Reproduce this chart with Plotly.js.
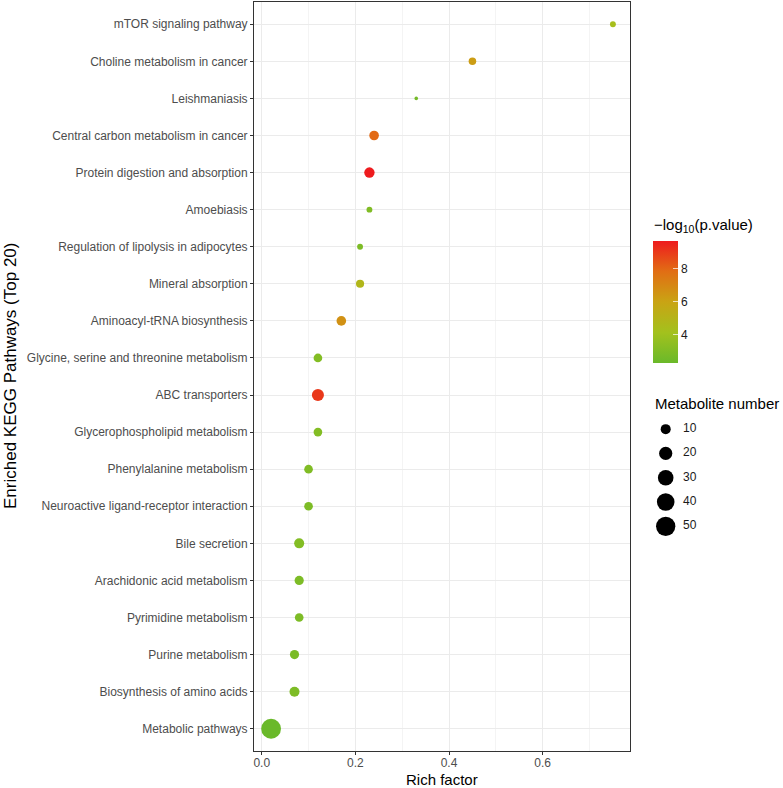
<!DOCTYPE html>
<html>
<head>
<meta charset="utf-8">
<script src="https://cdn.plot.ly/plotly-3.0.1.min.js"></script>
<style>html,body{margin:0;padding:0;background:#fff;}#chart{width:783px;height:788px;}</style>
</head>
<body>
<div id="chart"></div>
<script>
// ---- data ----
var pathways = [
  "mTOR signaling pathway",
  "Choline metabolism in cancer",
  "Leishmaniasis",
  "Central carbon metabolism in cancer",
  "Protein digestion and absorption",
  "Amoebiasis",
  "Regulation of lipolysis in adipocytes",
  "Mineral absorption",
  "Aminoacyl-tRNA biosynthesis",
  "Glycine, serine and threonine metabolism",
  "ABC transporters",
  "Glycerophospholipid metabolism",
  "Phenylalanine metabolism",
  "Neuroactive ligand-receptor interaction",
  "Bile secretion",
  "Arachidonic acid metabolism",
  "Pyrimidine metabolism",
  "Purine metabolism",
  "Biosynthesis of amino acids",
  "Metabolic pathways"
];
var richFactor = [0.75, 0.45, 0.33, 0.24, 0.23, 0.23, 0.21, 0.21, 0.17, 0.12, 0.12, 0.12, 0.10, 0.10, 0.08, 0.08, 0.08, 0.07, 0.07, 0.02];
var metaboliteNumber = [3, 5, 2, 9, 11, 3, 3, 6, 9, 7, 16, 7, 7, 7, 10, 8, 7, 8, 10, 53];
var negLog10P = [4.3, 6.2, 2.6, 7.9, 9.65, 3.0, 2.9, 4.8, 6.6, 3.1, 9.0, 3.1, 3.0, 2.9, 3.1, 2.9, 2.9, 2.8, 2.9, 2.28];
var sizeLegendValues = [10, 20, 30, 40, 50];
var xTickValues = [0, 0.2, 0.4, 0.6];
var colorTickValues = [4, 6, 8];

// ---- scales ----
var nMin = Math.min.apply(null, metaboliteNumber), nMax = Math.max.apply(null, metaboliteNumber);
function diam(v){ return 3.6 + 16.2 * Math.sqrt(Math.max(0,(v - nMin)) / (nMax - nMin)); }
var cMin = Math.min.apply(null, negLog10P), cMax = Math.max.apply(null, negLog10P);
var colorscale = [[0,'#6ab92a'],[0.25,'#a3c11d'],[0.5,'#c9a414'],[0.75,'#e16e14'],[1,'#ee1b1e']];
var xr = Math.max.apply(null, richFactor) - Math.min.apply(null, richFactor);
var xRange = [Math.min.apply(null, richFactor) - 0.05*xr, Math.max.apply(null, richFactor) + 0.05*xr];

var W = 783, H = 788, L = 254, R = 5, T = 2, B = 37;
var pw = W - L - R, ph = H - T - B;
function px2x(p){ return (p - L) / pw; }
function px2y(p){ return (H - B - p) / ph; }

var font = "Liberation Sans, Arial, Helvetica, sans-serif";

var main = {
  type: 'scatter', mode: 'markers',
  x: richFactor, y: pathways,
  xaxis: 'x', yaxis: 'y',
  marker: {
    size: metaboliteNumber.map(diam), sizemode: 'diameter',
    color: negLog10P, colorscale: colorscale, cmin: cMin, cmax: cMax,
    opacity: 1, line: {width: 0},
    showscale: true,
    colorbar: {
      xref: 'paper', yref: 'paper',
      x: px2x(653), xanchor: 'left', y: px2y(363.3), yanchor: 'bottom',
      len: 121.6, lenmode: 'pixels', thickness: 25, thicknessmode: 'pixels',
      xpad: 0, ypad: 0, outlinewidth: 0,
      tickvals: colorTickValues, ticks: 'inside', ticklen: 5, tickcolor: 'rgba(255,255,255,0.7)', tickwidth: 1,
      tickfont: {family: font, size: 12, color: '#1a1a1a'}
    }
  },
  hoverinfo: 'x+y', showlegend: false
};

var sizeLeg = {
  type: 'scatter', mode: 'markers',
  x: sizeLegendValues.map(function(){ return 10.7; }),
  y: sizeLegendValues.map(function(v, i){ return i; }),
  xaxis: 'x2', yaxis: 'y2',
  marker: {size: sizeLegendValues.map(diam), sizemode: 'diameter', color: '#000000', opacity: 1, line: {width: 0}},
  opacity: 1,
  hoverinfo: 'skip', showlegend: false
};
var sizeLegText = {
  type: 'scatter', mode: 'text',
  x: sizeLegendValues.map(function(){ return 28; }),
  y: sizeLegendValues.map(function(v, i){ return i; }),
  text: sizeLegendValues.map(String),
  textposition: 'middle right',
  textfont: {family: font, size: 12, color: '#1a1a1a'},
  xaxis: 'x2', yaxis: 'y2', hoverinfo: 'skip', showlegend: false
};

var layout = {
  width: W, height: H,
  margin: {l: L, r: R, t: T, b: B, pad: 0, autoexpand: false},
  paper_bgcolor: '#fff', plot_bgcolor: '#fff',
  font: {family: font},
  xaxis: {
    domain: [0, px2x(630)], range: xRange,
    tickvals: xTickValues, tickformat: '.1f',
    ticks: 'outside', ticklen: 3, tickcolor: '#333', tickwidth: 1,
    ticklabelstandoff: -2,
    tickfont: {family: font, size: 12, color: '#4d4d4d'},
    showgrid: true, gridcolor: '#ebebeb', gridwidth: 1,
    minor: {dtick: 0.1, tick0: 0, showgrid: true, gridcolor: '#f0f0f0', gridwidth: 0.7, ticks: ''},
    zeroline: false, automargin: false,
    showline: true, mirror: true, linecolor: '#333', linewidth: 1
  },
  yaxis: {
    type: 'category', categoryorder: 'array', categoryarray: pathways,
    range: [pathways.length - 1 + 0.6, -0.6],
    ticks: 'outside', ticklen: 3, tickcolor: '#333', tickwidth: 1,
    tickfont: {family: font, size: 12, color: '#4d4d4d'},
    showgrid: true, gridcolor: '#ebebeb', gridwidth: 1,
    zeroline: false, automargin: false,
    showline: true, mirror: true, linecolor: '#333', linewidth: 1
  },
  xaxis2: {domain: [px2x(655), px2x(755)], range: [0, 100], visible: false, fixedrange: true, anchor: 'y2'},
  yaxis2: {domain: [px2y(538.5), px2y(417)], range: [4.5, -0.5], visible: false, fixedrange: true, anchor: 'x2'},
  annotations: [
    {text: 'Enriched KEGG Pathways (Top 20)', textangle: -90, xref: 'paper', yref: 'paper',
     x: px2x(10), y: px2y(376), xanchor: 'center', yanchor: 'middle', showarrow: false,
     font: {family: font, size: 17, color: '#000'}},
    {text: 'Rich factor', xref: 'paper', yref: 'paper',
     x: px2x(442), y: px2y(779), xanchor: 'center', yanchor: 'middle', showarrow: false,
     font: {family: font, size: 15, color: '#000'}},
    {text: '\u2212log<sub>10</sub>(p.value)', xref: 'paper', yref: 'paper',
     x: px2x(652), y: px2y(225), xanchor: 'left', yanchor: 'middle', showarrow: false,
     font: {family: font, size: 15, color: '#000'}},
    {text: 'Metabolite number', xref: 'paper', yref: 'paper',
     x: px2x(653), y: px2y(403), xanchor: 'left', yanchor: 'middle', showarrow: false,
     font: {family: font, size: 15, color: '#000'}}
  ]
};

Plotly.newPlot('chart', [main, sizeLeg, sizeLegText], layout, {displayModeBar: false, staticPlot: true});
</script>
</body>
</html>
